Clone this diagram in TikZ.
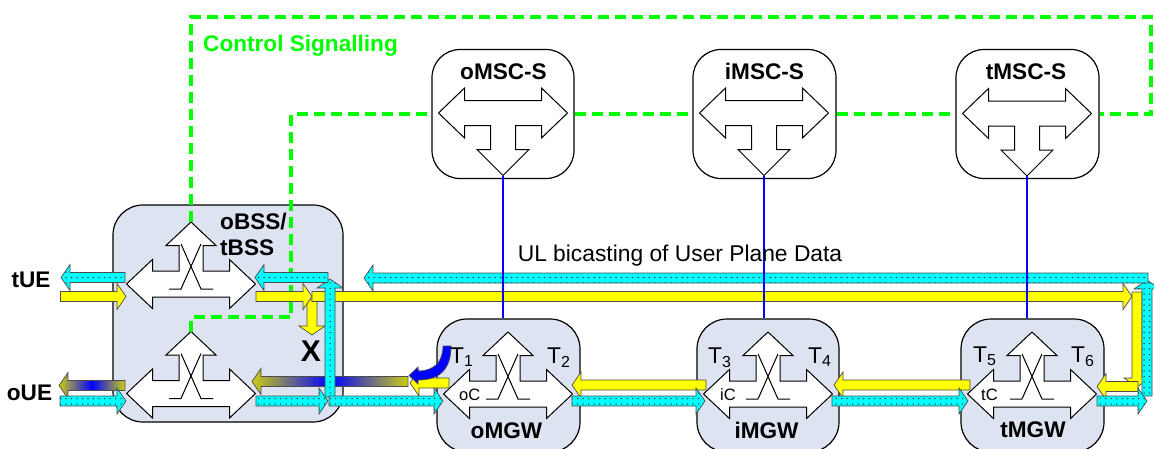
\documentclass[tikz,border=0pt]{standalone}
\usepackage{fontspec}
\setmainfont{Liberation Sans}
\usepackage{tikz}
\usetikzlibrary{patterns.meta}
\definecolor{boxblue}{RGB}{221,227,240}
\definecolor{ctrlgreen}{RGB}{0,255,0}
\definecolor{flowcyan}{RGB}{0,255,255}
\definecolor{flowyellow}{RGB}{255,255,0}
\definecolor{gradend}{RGB}{205,205,20}
\tikzstyle{gwbox} = [rectangle, rounded corners=30pt, draw=black, line width=1.2pt, fill=boxblue, inner sep=0pt]
\tikzstyle{mscbox} = [rectangle, rounded corners=28pt, draw=black, line width=1.2pt, fill=white, inner sep=0pt]
\tikzstyle{swfill} = [fill=white, draw=black, line width=1pt]
\tikzstyle{ctrl} = [ctrlgreen, line width=4pt, dash pattern=on 11pt off 6pt]
\tikzstyle{sig} = [blue, line width=2pt]
\tikzstyle{cyanfl} = [draw=black!70, line width=0.7pt, preaction={fill=flowcyan}, pattern={Dots[distance=5.5pt, radius=0.75pt]}, pattern color=black!80]
\tikzstyle{yfl} = [draw=black!70, line width=0.7pt, fill=flowyellow]
\tikzstyle{gradfl} = [draw=black!70, line width=0.7pt, left color=gradend, right color=gradend, middle color=blue]
\tikzstyle{bluefl} = [draw=black!70, line width=0.7pt, fill=blue]
\tikzset{
  pics/flow/.style 2 args={code={
    \draw[#1] (0,-5) -- (#2-9,-5) -- (#2-9,-13) -- (#2,0) -- (#2-9,13) -- (#2-9,5) -- (0,5) -- cycle;
  }},
  pics/xsw/.style={code={
    \draw[swfill] (-64.5,0) -- (-38.5,-24.5) -- (-38.5,-13) -- (-12,-13) -- (-12,-38.5) -- (-25,-38.5) -- (0,-62)
      -- (25,-38.5) -- (12,-38.5) -- (12,-13) -- (38.5,-13) -- (38.5,-24.5) -- (64.5,0) -- (38.5,24.5)
      -- (38.5,13) -- (-38.5,13) -- (-38.5,24.5) -- cycle;
    \draw[line width=1pt] (-10,-40) -- (10,5) -- (22,5) (10,-40) -- (-10,5) -- (-22,5);
    \coordinate (-tip) at (0,-62);
  }},
  pics/tsw/.style={code={
    \draw[swfill] (-64.5,0) -- (-38.5,-25) -- (-38.5,-12.5) -- (38.5,-12.5) -- (38.5,-25) -- (64.5,0) -- (38.5,25)
      -- (38.5,12.5) -- (12.5,12.5) -- (12.5,36.5) -- (26,36.5) -- (0,62.5) -- (-26,36.5) -- (-12.5,36.5)
      -- (-12.5,12.5) -- (-38.5,12.5) -- (-38.5,25) -- cycle;
    \coordinate (-tip) at (0,62.5);
  }}
}

\begin{document}
\begin{tikzpicture}[x=1pt, y=-1pt,
  every node/.style={inner sep=0pt},
  lbl/.style={font=\fontsize{22.6}{26}\selectfont\bfseries},
  tlbl/.style={font=\fontsize{22.8}{26}\selectfont},
  clbl/.style={font=\fontsize{16.5}{18}\selectfont}
]
\useasboundingbox (0,0) rectangle (1154,448);
\clip (0,0) rectangle (1154,448);

\node (obss) [gwbox, minimum width=230pt, minimum height=217pt] at (228,313.5) {};
\node (omsc) [mscbox, minimum width=142pt, minimum height=129pt] at (503,114) {};
\node (imsc) [mscbox, minimum width=143pt, minimum height=129pt] at (764.5,114) {};
\node (tmsc) [mscbox, minimum width=143pt, minimum height=129pt] at (1027.5,114) {};
\node (omgw) [gwbox, minimum width=143pt, minimum height=133pt] at (508.5,385.5) {};
\node (imgw) [gwbox, minimum width=142pt, minimum height=133pt] at (768,385.5) {};
\node (tmgw) [gwbox, minimum width=143pt, minimum height=133pt] at (1032.5,385.5) {};

\pic (obssup) at (191,284) {xsw};
\pic (obsslo) at (191,393.5) {xsw};
\pic (omgwsw) at (508,394) {xsw};
\pic (imgwsw) at (768,394) {xsw};
\pic (tmgwsw) at (1032,394) {xsw};
\pic (omscsw) at (503,113) {tsw};
\pic (imscsw) at (764,113) {tsw};
\pic (tmscsw) at (1027,113.5) {tsw};

% control signalling
\coordinate (ctop) at (1151,17);
\coordinate (cbss) at (291,317);
\draw[ctrl] (obssup-tip) |- (ctop) |- (tmsc.east);
\draw[ctrl] (obsslo-tip) |- (cbss) |- (omsc.west);
\draw[ctrl] (omsc.east) -- (imsc.west);
\draw[ctrl] (imsc.east) -- (tmsc.west);

% yellow flows
\pic at (60.5,296.5) {flow={yfl}{65.5}};
\pic[rotate=-90] at (312,300) {flow={yfl}{35}};
\pic at (256,296.5) {flow={yfl}{56}};
\pic at (312,296.5) {flow={yfl}{820}};
\pic[rotate=-90] at (1137,292) {flow={yfl}{95}};
\pic[rotate=180] at (1138,386.5) {flow={yfl}{41}};
\pic[rotate=180] at (970,385) {flow={yfl}{136}};
\pic[rotate=180] at (706,385) {flow={yfl}{134}};
\pic[rotate=180] at (449,383) {flow={yfl}{39}};

% mixed flows
\pic[rotate=180] at (408,381.5) {flow={gradfl}{156}};
\pic[rotate=180] at (125,385.5) {flow={gradfl}{66}};
\draw[bluefl] (451,346) .. controls (451,369) and (440,380) .. (418,380) -- (418,384) -- (409,375.5)
  -- (418,367) -- (418,371) .. controls (434,371) and (443,362) .. (443,346) -- cycle;

% cyan flows
\pic[rotate=180] at (125,277.5) {flow={cyanfl}{64}};
\pic at (60,401) {flow={cyanfl}{66}};
\pic[rotate=90] at (330,397) {flow={cyanfl}{118}};
\pic at (256,401) {flow={cyanfl}{72}};
\pic at (329,401) {flow={cyanfl}{114}};
\pic[rotate=180] at (328,277.5) {flow={cyanfl}{73}};
\pic[rotate=90] at (1147,396) {flow={cyanfl}{116}};
\pic[rotate=180] at (1148,278) {flow={cyanfl}{784}};
\pic at (1097,401) {flow={cyanfl}{50}};
\pic at (572,401) {flow={cyanfl}{133}};
\pic at (832,401) {flow={cyanfl}{136}};

% MSC to MGW
\draw[sig] (omscsw-tip) -- (omscsw-tip |- omgw.north);
\draw[sig] (imscsw-tip) -- (imscsw-tip |- imgw.north);
\draw[sig] (tmscsw-tip) -- (tmscsw-tip |- tmgw.north);

\node (ctrllbl) [lbl, text=ctrlgreen, anchor=base west] at (203,51.5) {Control Signalling};
\node (ullbl) [tlbl, anchor=base] at (680,261.5) {UL bicasting of User Plane Data};
\node (tue) [lbl, anchor=base] at (31,287.5) {tUE};
\node (oue) [lbl, anchor=base] at (29.5,400.5) {oUE};
\node (obsslbl) [lbl, anchor=base west] at (220,229) {oBSS/};
\node (tbsslbl) [lbl, anchor=base west] at (220,255.5) {tBSS};
\node (cut) [font=\fontsize{30}{32}\selectfont\bfseries, anchor=base] at (311,361.5) {X};
\node (omsclbl) [lbl, anchor=base] at (503.5,79) {oMSC-S};
\node (imsclbl) [lbl, anchor=base] at (764.5,79) {iMSC-S};
\node (tmsclbl) [lbl, anchor=base] at (1026,79) {tMSC-S};
\node (omgwlbl) [lbl, anchor=base] at (506.5,438) {oMGW};
\node (imgwlbl) [lbl, anchor=base] at (766.5,438) {iMGW};
\node (tmgwlbl) [lbl, anchor=base] at (1033,437) {tMGW};
\node (t1) [tlbl, anchor=base west] at (450,363) {T\textsubscript{1}};
\node (t2) [tlbl, anchor=base west] at (547,363) {T\textsubscript{2}};
\node (t3) [tlbl, anchor=base west] at (708,363) {T\textsubscript{3}};
\node (t4) [tlbl, anchor=base west] at (808,363) {T\textsubscript{4}};
\node (t5) [tlbl, anchor=base west] at (973,362) {T\textsubscript{5}};
\node (t6) [tlbl, anchor=base west] at (1071,362) {T\textsubscript{6}};
\node (oc) [clbl, anchor=base west] at (459,400) {oC};
\node (ic) [clbl, anchor=base west] at (720,400) {iC};
\node (tc) [clbl, anchor=base west] at (981,400) {tC};

\end{tikzpicture}
\end{document}
